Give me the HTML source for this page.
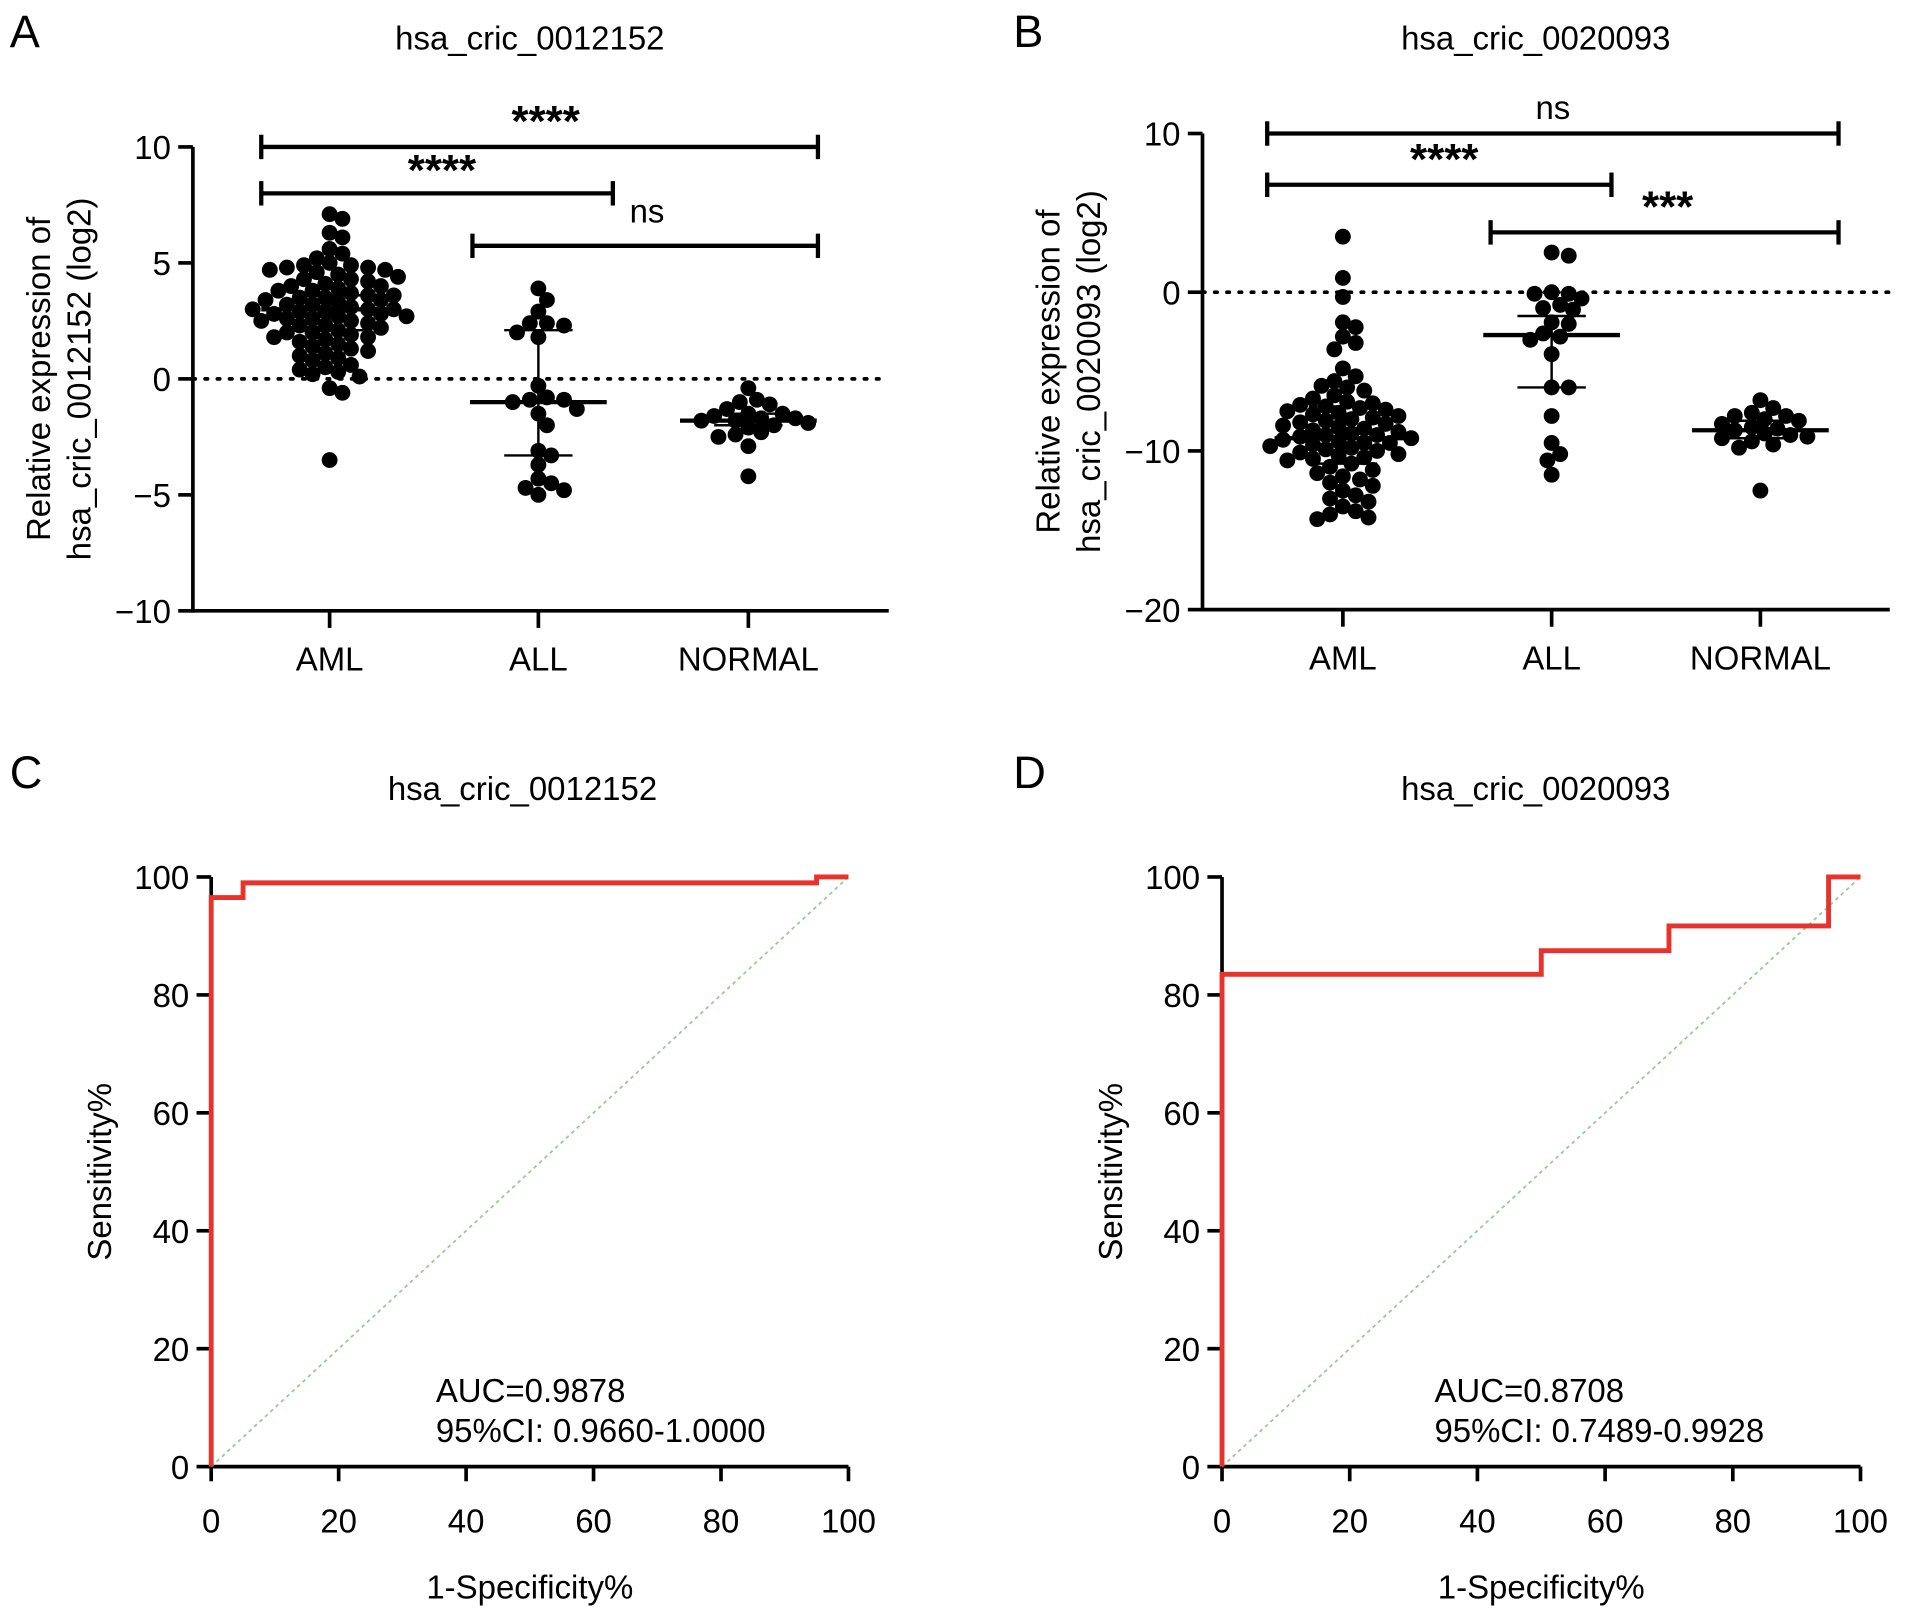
<!DOCTYPE html>
<html><head><meta charset="utf-8"><style>
html,body{margin:0;padding:0;background:#fff;}
svg{display:block;font-family:"Liberation Sans",sans-serif;}
</style></head><body>
<svg id="fig" width="1913" height="1616" viewBox="0 0 1567 1323">
<g id="root"></g>
</svg>
<script>
// ---- data ----
const groups = ["AML","ALL","NORMAL"];
const aAML = [7.1,6.9,6.3,6.1,5.6,5.4,5.2,5.0,4.9,4.9,4.8,4.8,4.7,4.7,4.6,4.5,4.4,4.3,4.3,4.2,4.1,4.0,4.0,3.9,3.8,3.8,3.7,3.6,3.6,3.5,3.5,3.4,3.4,3.3,3.2,3.2,3.1,3.0,3.0,3.0,2.9,2.9,2.8,2.8,2.7,2.7,2.6,2.6,2.5,2.5,2.4,2.3,2.3,2.2,2.1,2.0,2.0,1.9,1.8,1.8,1.7,1.6,1.5,1.4,1.3,1.2,1.1,1.0,0.9,0.8,0.6,0.5,0.4,0.3,0.2,0.1,-0.4,-0.6,-3.5];
const aALL = [3.9,3.4,2.9,2.4,2.4,2.3,2.0,1.8,-0.3,-0.8,-0.9,-0.9,-1.0,-1.3,-1.5,-2.0,-3.1,-3.3,-3.7,-4.3,-4.5,-4.7,-4.8,-5.0];
const aNOR = [-0.4,-0.9,-1.0,-1.1,-1.3,-1.5,-1.5,-1.6,-1.7,-1.7,-1.8,-1.8,-1.9,-2.0,-2.1,-2.3,-2.4,-2.5,-2.9,-4.2];
const aStats = [[3.0,2.1,3.6],[-1.0,-3.3,2.1],[-1.8,-2.0,-1.5]]; // median, q1, q3
const bAML = [3.5,0.9,-0.3,-1.9,-2.2,-2.8,-3.2,-3.6,-4.8,-5.3,-5.6,-5.9,-6.0,-6.2,-6.5,-6.7,-6.9,-7.0,-7.1,-7.2,-7.3,-7.4,-7.5,-7.6,-7.7,-7.8,-7.9,-8.0,-8.1,-8.2,-8.3,-8.4,-8.5,-8.6,-8.7,-8.8,-8.9,-9.0,-9.0,-9.1,-9.2,-9.3,-9.4,-9.5,-9.5,-9.6,-9.7,-9.8,-9.9,-10.0,-10.1,-10.2,-10.3,-10.4,-10.5,-10.6,-10.8,-11.0,-11.2,-11.4,-11.6,-11.8,-12.0,-12.2,-12.5,-12.8,-13.0,-13.2,-13.5,-13.8,-14.0,-14.2,-14.3];
const bALL = [2.5,2.3,0,-0.1,-0.1,-0.4,-0.8,-1.0,-1.1,-1.9,-2.0,-2.6,-2.8,-3.0,-3.9,-6.0,-6.0,-7.8,-9.5,-10.2,-10.6,-11.5];
const bNOR = [-6.8,-7.3,-7.6,-7.8,-7.8,-8.0,-8.1,-8.3,-8.5,-8.6,-8.7,-8.9,-9.0,-9.1,-9.2,-9.4,-9.6,-9.8,-12.5];
const bStats = [[-9.2,-10.8,-7.2],[-2.7,-6.0,-1.5],[-8.7,-9.2,-8.1]];
const rocCx = [0,0,5,5,95,95,100];
const rocCy = [0,96.5,96.5,99,99,100,100];
const rocDx = [0,0,50,50,70,70,95,95,100];
const rocDy = [0,83.5,83.5,87.5,87.5,91.7,91.7,100,100];
const scatterTicks = [10,5,0,-5,-10];
const scatterTicksB = [10,0,-10,-20];
const rocTicks = [0,20,40,60,80,100];

const NS="http://www.w3.org/2000/svg";
const root=document.getElementById('root');
const FS=27;
function mk(tag,attrs,parent,text){const e=document.createElementNS(NS,tag);for(const k in attrs)e.setAttribute(k,attrs[k]);if(text!==undefined)e.textContent=text;(parent||root).appendChild(e);return e;}
function line(x1,y1,x2,y2,w,p,extra){return mk('line',Object.assign({x1,y1,x2,y2,stroke:'#000','stroke-width':w},extra||{}),p);}

function scatterPanel(o){
  const g=mk('g',{});
  
  
  const y=v=>o.y0+(o.vmax-v)/(o.vmax-o.vmin)*(o.y1-o.y0);
  const lt=mk('text',{x:o.letterX,y:38,'font-size':37},g,o.letter);
  
  const tt=mk('text',{x:o.titleX,y:40,'font-size':FS,'text-anchor':'middle'},g,o.title);
  
  line(o.ax,o.y0,o.ax,o.y1+1.5,3,g);
  line(o.ax,o.y1,o.xEnd,o.y1,3,g);
  o.ticks.forEach(t=>{line(o.ax-12,y(t),o.ax,y(t),3,g);
    const tl=mk('text',{x:o.ax-18,y:y(t)+10,'font-size':FS,'text-anchor':'end'},g,t<0?'\u2212'+(-t):String(t));
    });
  line(o.ax,y(0),o.xEnd,y(0),3,g,{'stroke-dasharray':'2 8','stroke-linecap':'round'});
  const yt=mk('text',{transform:`translate(${o.ytX},${(o.y0+o.y1)/2}) rotate(-90)`,'font-size':FS,'text-anchor':'middle'},g);
  
  mk('tspan',{x:0,dy:-17},yt,'Relative expression of');
  mk('tspan',{x:0,dy:33},yt,o.ylab);
  o.data.forEach((vals,i)=>{
    const cx=o.cats[i];
    line(cx,o.y1,cx,o.y1+14,3,g);
    const xl=mk('text',{x:cx,y:o.y1+49,'font-size':FS,'text-anchor':'middle'},g,groups[i]);
    
    const r=6.5,placed=[],md=11;
    const sorted=vals.slice().sort((a,b)=>b-a);
    sorted.forEach(v=>{const py=y(v);let px=cx;
      for(let k=0;k<80;k++){const off=(k%2?1:-1)*Math.ceil(k/2)*3.5;const tx=cx+off;
        if(placed.every(p=>(p[0]-tx)**2+(p[1]-py)**2>=md*md)){px=tx;break;}}
      placed.push([px,py]);
      const c=mk('circle',{cx:px,cy:py,r:r,fill:'#000'},g);
      });
    const s=o.stats[i];
    line(cx-56,y(s[0]),cx+56,y(s[0]),3.5,g);
    line(cx,y(s[1]),cx,y(s[2]),2,g);
    line(cx-28,y(s[1]),cx+28,y(s[1]),2,g);
    line(cx-28,y(s[2]),cx+28,y(s[2]),2,g);
  });
  o.brackets.forEach(b=>{
    line(b.x1,b.y,b.x2,b.y,3.5,g);line(b.x1,b.y-10,b.x1,b.y+10,3.5,g);line(b.x2,b.y-10,b.x2,b.y+10,3.5,g);
    const bt=mk('text',{x:b.tx,y:b.ty,'font-size':b.ns?FS:36,'font-weight':b.ns?'normal':'bold','text-anchor':'middle'},g,b.label);
    
  });
}
scatterPanel({name:'panel-a-scatter',letter:'A',letterX:8,title:'hsa_cric_0012152',titleX:434,ax:158,y0:120,y1:500,xEnd:728,vmax:10,vmin:-10,
  ticks:scatterTicks,ytX:58,ylab:'hsa_cric_0012152 (log2)',cats:[270,441,613],data:[aAML,aALL,aNOR],stats:aStats,
  brackets:[{x1:214,x2:670,y:120,label:'****',tx:447,ty:111},{x1:214,x2:502,y:158,label:'****',tx:362,ty:151},{x1:387,x2:670,y:201,label:'ns',tx:530,ty:182,ns:true}]});
scatterPanel({name:'panel-b-scatter',letter:'B',letterX:830,title:'hsa_cric_0020093',titleX:1258,ax:985,y0:109,y1:499,xEnd:1548,vmax:10,vmin:-20,
  ticks:scatterTicksB,ytX:885,ylab:'hsa_cric_0020093 (log2)',cats:[1100,1271,1442],data:[bAML,bALL,bNOR],stats:bStats,
  brackets:[{x1:1038,x2:1506,y:109,label:'ns',tx:1272,ty:97,ns:true},{x1:1038,x2:1320,y:151,label:'****',tx:1183,ty:142},{x1:1221,x2:1506,y:190,label:'***',tx:1366,ty:181}]});

function rocPanel(o){
  const g=mk('g',{});
  
  
  const X=v=>o.x0+v/100*(o.x1-o.x0), Y=v=>o.y1-v/100*(o.y1-o.y0);
  const lt=mk('text',{x:o.letterX,y:645,'font-size':37},g,o.letter);
  
  const tt=mk('text',{x:o.titleX,y:655,'font-size':FS,'text-anchor':'middle'},g,o.title);
  
  line(o.x0,o.y0,o.x0,o.y1+1.5,3,g);line(o.x0-1.5,o.y1,o.x1,o.y1,3,g);
  rocTicks.forEach(t=>{line(o.x0-12,Y(t),o.x0,Y(t),3,g);line(X(t),o.y1,X(t),o.y1+12,3,g);
    const a=mk('text',{x:o.x0-18,y:Y(t)+10,'font-size':FS,'text-anchor':'end'},g,String(t));
    
    const b=mk('text',{x:X(t),y:o.y1+54,'font-size':FS,'text-anchor':'middle'},g,String(t));
    });
  const d=line(X(0),Y(0),X(100),Y(100),1.5,g,{stroke:'#9c9','stroke-dasharray':'3 3'});
  
  const pts=o.xs.map((v,i)=>X(v)+','+Y(o.ys[i])).join(' ');
  const pl=mk('polyline',{points:pts,fill:'none',stroke:'#e8322c','stroke-width':4},g);
  
  const yt=mk('text',{transform:`translate(${o.x0-82},${(o.y0+o.y1)/2}) rotate(-90)`,'font-size':FS,'text-anchor':'middle'},g,'Sensitivity%');
  
  const xt=mk('text',{x:(o.x0+o.x1)/2,y:1309,'font-size':FS,'text-anchor':'middle'},g,'1-Specificity%');
  
  const at=mk('text',{x:o.aucX,y:1148,'font-size':FS},g,o.auc);
  
  const ct=mk('text',{x:o.aucX,y:1181,'font-size':FS},g,o.ci);
  
}
rocPanel({name:'panel-c-roc',letter:'C',letterX:8,title:'hsa_cric_0012152',titleX:428,x0:173,x1:695,y0:718,y1:1201,xs:rocCx,ys:rocCy,aucX:357,auc:'AUC=0.9878',ci:'95%CI: 0.9660-1.0000'});
rocPanel({name:'panel-d-roc',letter:'D',letterX:830,title:'hsa_cric_0020093',titleX:1258,x0:1001,x1:1524,y0:718,y1:1201,xs:rocDx,ys:rocDy,aucX:1175,auc:'AUC=0.8708',ci:'95%CI: 0.7489-0.9928'});
</script>
</body></html>
